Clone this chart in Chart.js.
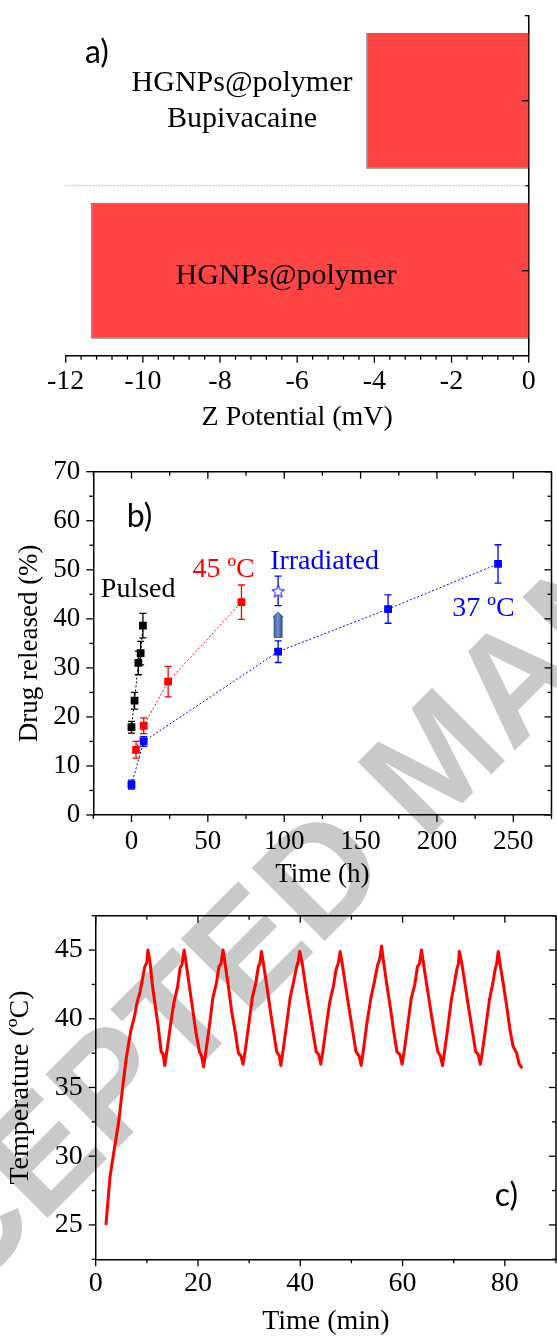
<!DOCTYPE html>
<html lang="en">
<head>
<meta charset="UTF-8">
<title>Z potential, drug release and temperature</title>
<script src="https://cdn.jsdelivr.net/npm/chart.js"></script>
<style>
  html, body { margin: 0; padding: 0; background: #fff; overflow: hidden; }
  body { position: relative; width: 557px; height: 1336px; }
  .panel { position: absolute; left: 0; width: 557px; z-index: 1; }
  #watermark {
    position: absolute; left: 434px; top: 758px;
    width: 2400px; height: 150px; margin-left: -1200px; margin-top: -75px;
    font: bold 150px "Liberation Sans", Arial, sans-serif; line-height: 150px;
    text-align: center; white-space: nowrap; color: #c9c9c9;
    transform: rotate(-45deg); z-index: 0;
  }
</style>
</head>
<body>

<div id="watermark">ACCEPTED MANUSCRIPT</div>

<div class="panel" style="top:0;height:440px"><canvas id="chartA" width="557" height="440"></canvas></div>
<div class="panel" style="top:440px;height:460px"><canvas id="chartB" width="557" height="460"></canvas></div>
<div class="panel" style="top:880px;height:456px"><canvas id="chartC" width="557" height="456"></canvas></div>

<script>
// ---- a) zeta potential
const zetaCategories = [['HGNPs@polymer', 'Bupivacaine'], ['HGNPs@polymer']];
const zetaValues = [-4.21, -11.34];
const zetaTicks = [-12, -10, -8, -6, -4, -2, 0];
const zetaMinorTicks = [-11.6, -11.2, -10.8, -10.4, -9.6, -9.2, -8.8, -8.4, -7.6, -7.2, -6.8, -6.4,
                        -5.6, -5.2, -4.8, -4.4, -3.6, -3.2, -2.8, -2.4, -1.6, -1.2, -0.8, -0.4];

// ---- b) drug release
const pulsedTime = [0, 2, 4.5, 6, 7.5];
const pulsedRelease = [17.9, 23.3, 31.0, 33.0, 38.6];
const pulsedError = [1.2, 1.7, 2.4, 2.4, 2.5];

const hot45Time = [3, 8, 24, 72];
const hot45Release = [13.3, 18.2, 27.2, 43.4];
const hot45Error = [1.7, 1.6, 3.1, 3.5];

const body37Time = [0, 8, 96, 168, 240];
const body37Release = [6.2, 15.0, 33.3, 42.0, 51.2];
const body37Error = [0.9, 1.0, 2.2, 2.9, 3.9];

const irradiatedTime = [96];
const irradiatedRelease = [45.7];
const irradiatedError = [3.0];
const irradiationArrow = { time: 96, from: 36.2, to: 41.4 };

const releaseTimeTicks = [0, 50, 100, 150, 200, 250];
const releaseTimeMinor = [-25, 25, 75, 125, 175, 225, 275];
const releaseTicks = [0, 10, 20, 30, 40, 50, 60, 70];
const releaseMinor = [5, 15, 25, 35, 45, 55, 65];

// ---- c) temperature under pulsed irradiation
const heatTime = [2.0, 2.8, 3.5, 4.5, 5.3, 6.0, 6.9, 7.6, 8.1, 8.7, 9.2, 9.6, 10.0, 10.2, 10.6,
  11.1, 11.7, 12.3, 12.8, 13.2, 13.5,
  13.9, 14.6, 15.3, 16.0, 16.5, 16.9, 17.3, 17.7,
  18.3, 19.0, 19.6, 20.3, 20.7, 21.1,
  21.5, 22.2, 22.9, 23.6, 24.1, 24.5, 24.9, 25.3,
  26.0, 26.6, 27.3, 27.9, 28.4, 28.8,
  29.2, 29.9, 30.6, 31.3, 31.8, 32.1, 32.4, 32.8,
  33.5, 34.1, 34.8, 35.4, 35.9, 36.2,
  36.6, 37.3, 38.0, 38.7, 39.3, 39.6, 39.9, 40.4,
  41.1, 41.8, 42.5, 43.1, 43.6, 44.0,
  44.4, 45.1, 45.8, 46.5, 47.0, 47.4, 47.8, 48.2,
  48.9, 49.6, 50.3, 50.9, 51.5, 51.9,
  52.3, 53.0, 53.8, 54.5, 55.1, 55.5, 55.9, 56.3,
  57.0, 57.7, 58.3, 58.9, 59.5, 59.9,
  60.3, 61.0, 61.7, 62.4, 62.9, 63.3, 63.7, 64.1,
  64.8, 65.5, 66.2, 66.9, 67.4, 67.8,
  68.2, 68.9, 69.5, 70.1, 70.6, 70.9, 71.1, 71.6,
  72.3, 73.0, 73.7, 74.3, 74.8, 75.2,
  75.6, 76.3, 77.0, 77.6, 78.1, 78.4, 78.7, 79.1,
  79.8, 80.4, 81.0, 81.6, 82.3, 82.8, 83.4];
const heatTemp = [25.0, 28.5, 30.2, 32.5, 35.1, 37.2, 39.2, 40.2, 41.2, 42.0, 43.0, 43.8, 44.1, 45.0, 44.2,
  42.4, 40.8, 39.2, 37.6, 37.4, 36.6,
  37.6, 39.5, 41.2, 42.3, 43.7, 44.0, 45.0, 44.0,
  42.4, 40.6, 39.0, 37.6, 37.3, 36.5,
  37.5, 39.4, 41.5, 42.6, 43.8, 44.0, 45.0, 44.0,
  42.2, 40.5, 39.0, 37.5, 37.3, 36.7,
  37.6, 39.5, 41.5, 42.6, 43.8, 44.0, 44.9, 44.0,
  42.3, 40.7, 39.0, 37.6, 37.3, 36.6,
  37.6, 39.5, 41.5, 42.7, 43.8, 44.2, 44.9, 44.0,
  42.2, 40.6, 39.0, 37.6, 37.4, 36.7,
  37.6, 39.5, 41.3, 42.4, 43.6, 44.0, 44.9, 44.0,
  42.3, 40.6, 39.0, 37.6, 37.3, 36.6,
  37.6, 39.6, 41.5, 42.7, 43.9, 44.3, 45.3, 44.1,
  42.3, 40.6, 39.0, 37.6, 37.4, 36.7,
  37.6, 39.5, 41.5, 42.5, 43.8, 44.0, 45.0, 44.0,
  42.3, 40.6, 39.0, 37.6, 37.3, 36.6,
  37.6, 39.5, 41.3, 42.5, 43.6, 44.0, 44.9, 44.0,
  42.3, 40.6, 39.0, 37.6, 37.4, 36.7,
  37.6, 39.5, 41.4, 42.5, 43.6, 44.0, 44.9, 43.9,
  42.3, 40.8, 39.2, 38.0, 37.5, 36.7, 36.4];
const heatTimeTicks = [0, 20, 40, 60, 80];
const heatTimeMinor = [10, 30, 50, 70, 90];
const heatTempTicks = [25, 30, 35, 40, 45];
const heatTempMinor = [22.5, 27.5, 32.5, 37.5, 42.5, 47.5];

const serif = '"Liberation Serif", "Times New Roman", serif';
const sans = 'Lato, "Open Sans", sans-serif';
Chart.defaults.font.family = serif;
Chart.defaults.color = '#000';

const zip = (xs, ys) => xs.map((x, i) => ({ x: x, y: ys[i] }));

// open five-point star used as a marker
function starMarker(size, color) {
  const c = document.createElement('canvas');
  c.width = c.height = size;
  const g = c.getContext('2d');
  const R = size / 2 - 1, r = R * 0.45;
  g.beginPath();
  for (let k = 0; k < 10; k++) {
    const rad = k % 2 ? r : R;
    const a = -Math.PI / 2 + k * Math.PI / 5;
    g.lineTo(size / 2 + rad * Math.cos(a), size / 2 + 1 + rad * Math.sin(a));
  }
  g.closePath();
  g.fillStyle = '#fff';
  g.fill();
  g.strokeStyle = color;
  g.lineWidth = 1;
  g.stroke();
  return c;
}

// error bars, tick marks, frame, labels and the arrow
const figurePlugin = {
  id: 'figure',
  beforeDatasetsDraw(chart) {
    const ctx = chart.ctx, ys = chart.scales.y;
    chart.data.datasets.forEach((ds, i) => {
      if (!ds.errors) return;
      const meta = chart.getDatasetMeta(i);
      ctx.save();
      ctx.strokeStyle = ds.borderColor;
      ctx.lineWidth = 1.3;
      meta.data.forEach((pt, j) => {
        const v = ds.data[j].y, e = ds.errors[j];
        const top = ys.getPixelForValue(v + e), bot = ys.getPixelForValue(v - e);
        ctx.beginPath();
        ctx.moveTo(pt.x, top); ctx.lineTo(pt.x, bot);
        ctx.moveTo(pt.x - 3.5, top); ctx.lineTo(pt.x + 3.5, top);
        ctx.moveTo(pt.x - 3.5, bot); ctx.lineTo(pt.x + 3.5, bot);
        ctx.stroke();
      });
      ctx.restore();
    });
  },
  afterDraw(chart, args, opts) {
    const ctx = chart.ctx, area = chart.chartArea;
    const xs = chart.scales.x, ys = chart.scales.y;
    ctx.save();
    ctx.strokeStyle = '#000';
    ctx.lineWidth = 1.5;

    (opts.frame || []).forEach(side => {
      ctx.beginPath();
      if (side === 'top') { ctx.moveTo(area.left, area.top); ctx.lineTo(area.right, area.top); }
      if (side === 'right') { ctx.moveTo(area.right, area.top); ctx.lineTo(area.right, area.bottom); }
      ctx.stroke();
    });

    ctx.lineWidth = 1.3;
    (opts.ticks || []).forEach(set => {
      const d = set.out ? 1 : -1;
      set.values.forEach(v => {
        ctx.beginPath();
        if (set.side === 'bottom' || set.side === 'top') {
          const p = xs.getPixelForValue(v);
          const y0 = set.side === 'bottom' ? area.bottom : area.top;
          const dir = set.side === 'bottom' ? d : -d;
          ctx.moveTo(p, y0); ctx.lineTo(p, y0 + dir * set.len);
        } else {
          const p = ys.getPixelForValue(v);
          const x0 = set.side === 'left' ? area.left : area.right;
          const dir = set.side === 'left' ? -d : d;
          ctx.moveTo(x0, p); ctx.lineTo(x0 + dir * set.len, p);
        }
        ctx.stroke();
      });
    });

    if (opts.divider) {
      const p = ys.getPixelForValue(opts.divider.at);
      ctx.strokeStyle = '#b4b4b4';
      ctx.lineWidth = 1;
      ctx.setLineDash([1.5, 1.5]);
      ctx.beginPath();
      ctx.moveTo(area.left, p); ctx.lineTo(area.right - 2, p);
      ctx.stroke();
      ctx.setLineDash([]);
    }

    if (opts.arrow) {
      const a = opts.arrow;
      const px = xs.getPixelForValue(a.time);
      const y0 = ys.getPixelForValue(a.from), y1 = ys.getPixelForValue(a.to);
      const g = ctx.createLinearGradient(px - 5, 0, px + 5, 0);
      g.addColorStop(0, '#2c4d85');
      g.addColorStop(0.45, '#6d93cc');
      g.addColorStop(1, '#2c4d85');
      ctx.beginPath();
      ctx.moveTo(px - 4, y0); ctx.lineTo(px - 4, y1 + 5); ctx.lineTo(px - 5, y1 + 5);
      ctx.lineTo(px, y1); ctx.lineTo(px + 5, y1 + 5); ctx.lineTo(px + 4, y1 + 5);
      ctx.lineTo(px + 4, y0); ctx.closePath();
      ctx.fillStyle = g;
      ctx.fill();
      ctx.strokeStyle = '#2a4a7f';
      ctx.lineWidth = 0.8;
      ctx.stroke();
    }

    (opts.labels || []).forEach(l => {
      const lines = Array.isArray(l.text) ? l.text : [l.text];
      const lh = l.size * 1.2;
      const cx = xs.getPixelForValue(l.x);
      const cy = ys.getPixelForValue(l.y) - (lines.length - 1) * lh / 2;
      ctx.font = l.size + 'px ' + (l.family || serif);
      ctx.fillStyle = l.color || '#000';
      ctx.textAlign = 'center';
      ctx.textBaseline = 'middle';
      lines.forEach((t, k) => ctx.fillText(t, cx, cy + k * lh));
    });
    ctx.restore();
  }
};

const tickFont = { family: serif, size: 27 };
const noGrid = { display: false, drawTicks: false };
const axisBorder = { color: '#000', width: 1.5 };
const listTicks = values => scale => { scale.ticks = values.map(v => ({ value: v })); };

// ---------------- a)
new Chart(document.getElementById('chartA'), {
  type: 'bar',
  data: {
    labels: zetaCategories,
    datasets: [{
      data: zetaValues,
      backgroundColor: '#ff4444',
      borderColor: '#5a5a5a',
      borderWidth: 1,
      categoryPercentage: 0.8,
      barPercentage: 1
    }]
  },
  options: {
    indexAxis: 'y',
    responsive: false,
    animation: false,
    layout: { padding: { left: 65.7, top: 15.7, right: 0, bottom: 0 } },
    plugins: {
      legend: { display: false },
      tooltip: { enabled: false },
      figure: {
        ticks: [
          { side: 'bottom', values: zetaTicks, len: 7, out: true },
          { side: 'bottom', values: zetaMinorTicks, len: 4, out: true },
          { side: 'right', values: [0, 1], len: 7, out: false },
          { side: 'right', values: [-0.5, 0.5], len: 4, out: false }
        ],
        divider: { at: 0.5 },
        labels: [
          { text: zetaCategories[0], x: -7.43, y: 0, size: 30 },
          { text: zetaCategories[1], x: -6.29, y: 1.03, size: 30 },
          { text: 'a)', x: -11.19, y: -0.28, size: 32, family: sans }
        ]
      }
    },
    scales: {
      x: {
        type: 'linear', min: -12, max: 0,
        afterBuildTicks: listTicks(zetaTicks),
        afterFit: s => { s.height = 440 - 355.7; },
        grid: noGrid, border: axisBorder,
        ticks: { font: { family: serif, size: 28 }, padding: 9, maxRotation: 0, autoSkip: false },
        title: { display: true, text: 'Z Potential (mV)', font: { family: serif, size: 28 }, padding: { top: 0, bottom: 6 } }
      },
      y: {
        type: 'category', position: 'right', offset: true,
        afterFit: s => { s.width = 557 - 528.7; },
        grid: { display: false, drawTicks: false, offset: true },
        border: axisBorder,
        ticks: { display: false }
      }
    }
  },
  plugins: [figurePlugin]
});

// ---------------- b)
const squareSeries = (label, xs, ys, errs, color) => ({
  label: label,
  data: zip(xs, ys),
  errors: errs,
  showLine: true,
  borderColor: color,
  backgroundColor: color,
  borderWidth: 1,
  borderDash: [2, 2],
  pointStyle: 'rect',
  pointRadius: 5.5,
  pointBorderWidth: 0
});

new Chart(document.getElementById('chartB'), {
  type: 'line',
  data: {
    datasets: [
      squareSeries('37 ºC', body37Time, body37Release, body37Error, '#0000ff'),
      squareSeries('45 ºC', hot45Time, hot45Release, hot45Error, '#ff0000'),
      squareSeries('Pulsed', pulsedTime, pulsedRelease, pulsedError, '#000000'),
      {
        label: 'Irradiated',
        data: zip(irradiatedTime, irradiatedRelease),
        errors: irradiatedError,
        showLine: false,
        borderColor: '#0000ff',
        pointStyle: starMarker(15, '#0000ff')
      }
    ]
  },
  options: {
    responsive: false,
    animation: false,
    layout: { padding: { left: 0, top: 31.7, right: 1.9, bottom: 0 } },
    plugins: {
      legend: { display: false },
      tooltip: { enabled: false },
      figure: {
        frame: ['top', 'right'],
        ticks: [
          { side: 'bottom', values: releaseTimeTicks, len: 7, out: true },
          { side: 'bottom', values: releaseTimeMinor, len: 4, out: true },
          { side: 'top', values: releaseTimeTicks, len: 7, out: false },
          { side: 'top', values: releaseTimeMinor, len: 4, out: false },
          { side: 'left', values: releaseTicks, len: 7, out: true },
          { side: 'left', values: releaseMinor, len: 4, out: true },
          { side: 'right', values: releaseTicks, len: 7, out: false },
          { side: 'right', values: releaseMinor, len: 4, out: false }
        ],
        arrow: irradiationArrow,
        labels: [
          { text: 'b)', x: 5.3, y: 60.9, size: 32, family: sans },
          { text: 'Pulsed', x: 4.4, y: 45.9, size: 28 },
          { text: '45 ºC', x: 60.3, y: 50.0, size: 28, color: '#ff0000' },
          { text: 'Irradiated', x: 126.4, y: 51.7, size: 28, color: '#0000ff' },
          { text: '37 ºC', x: 230.5, y: 42.1, size: 28, color: '#0000ff' }
        ]
      }
    },
    scales: {
      x: {
        type: 'linear', min: -25, max: 275,
        afterBuildTicks: listTicks(releaseTimeTicks),
        afterFit: s => { s.height = 460 - 375; },
        grid: noGrid, border: axisBorder,
        ticks: { font: tickFont, padding: 11, maxRotation: 0, autoSkip: false },
        title: { display: true, text: 'Time (h)', font: tickFont, padding: { top: 0, bottom: 9 } }
      },
      y: {
        type: 'linear', min: 0, max: 70,
        afterBuildTicks: listTicks(releaseTicks),
        afterFit: s => { s.width = 93.3; },
        grid: noGrid, border: axisBorder,
        ticks: { font: tickFont, padding: 13, autoSkip: false },
        title: { display: true, text: 'Drug released (%)', font: tickFont, padding: { top: 14, bottom: 0 } }
      }
    }
  },
  plugins: [figurePlugin]
});

// ---------------- c)
new Chart(document.getElementById('chartC'), {
  type: 'line',
  data: {
    datasets: [{
      label: 'Temperature',
      data: zip(heatTime, heatTemp),
      borderColor: '#ff0000',
      borderWidth: 3,
      borderJoinStyle: 'round',
      pointRadius: 0,
      tension: 0
    }]
  },
  options: {
    responsive: false,
    animation: false,
    layout: { padding: { left: 0, top: 35.7, right: 1, bottom: 0 } },
    plugins: {
      legend: { display: false },
      tooltip: { enabled: false },
      figure: {
        frame: ['top', 'right'],
        ticks: [
          { side: 'bottom', values: heatTimeTicks, len: 7, out: true },
          { side: 'bottom', values: heatTimeMinor, len: 4, out: true },
          { side: 'top', values: heatTimeTicks, len: 7, out: false },
          { side: 'top', values: heatTimeMinor, len: 4, out: false },
          { side: 'left', values: heatTempTicks, len: 7, out: true },
          { side: 'left', values: heatTempMinor, len: 4, out: true },
          { side: 'right', values: heatTempTicks, len: 7, out: false },
          { side: 'right', values: heatTempMinor, len: 4, out: false }
        ],
        labels: [
          { text: 'c)', x: 80.3, y: 27.1, size: 32, family: sans }
        ]
      }
    },
    scales: {
      x: {
        type: 'linear', min: 0, max: 90,
        afterBuildTicks: listTicks(heatTimeTicks),
        afterFit: s => { s.height = 456 - 379.3; },
        grid: noGrid, border: axisBorder,
        ticks: { font: { family: serif, size: 28 }, padding: 8, maxRotation: 0, autoSkip: false },
        title: { display: true, text: 'Time (min)', font: { family: serif, size: 28, lineHeight: 1 }, padding: { top: 0, bottom: 0 } }
      },
      y: {
        type: 'linear', min: 22.5, max: 47.5,
        afterBuildTicks: listTicks(heatTempTicks),
        afterFit: s => { s.width = 95.7; },
        grid: noGrid, border: axisBorder,
        ticks: { font: { family: serif, size: 28 }, padding: 13, autoSkip: false },
        title: { display: true, text: 'Temperature (ºC)', font: { family: serif, size: 28, lineHeight: 1 }, padding: { top: 6.5, bottom: 0 } }
      }
    }
  },
  plugins: [figurePlugin]
});
</script>
</body>
</html>
